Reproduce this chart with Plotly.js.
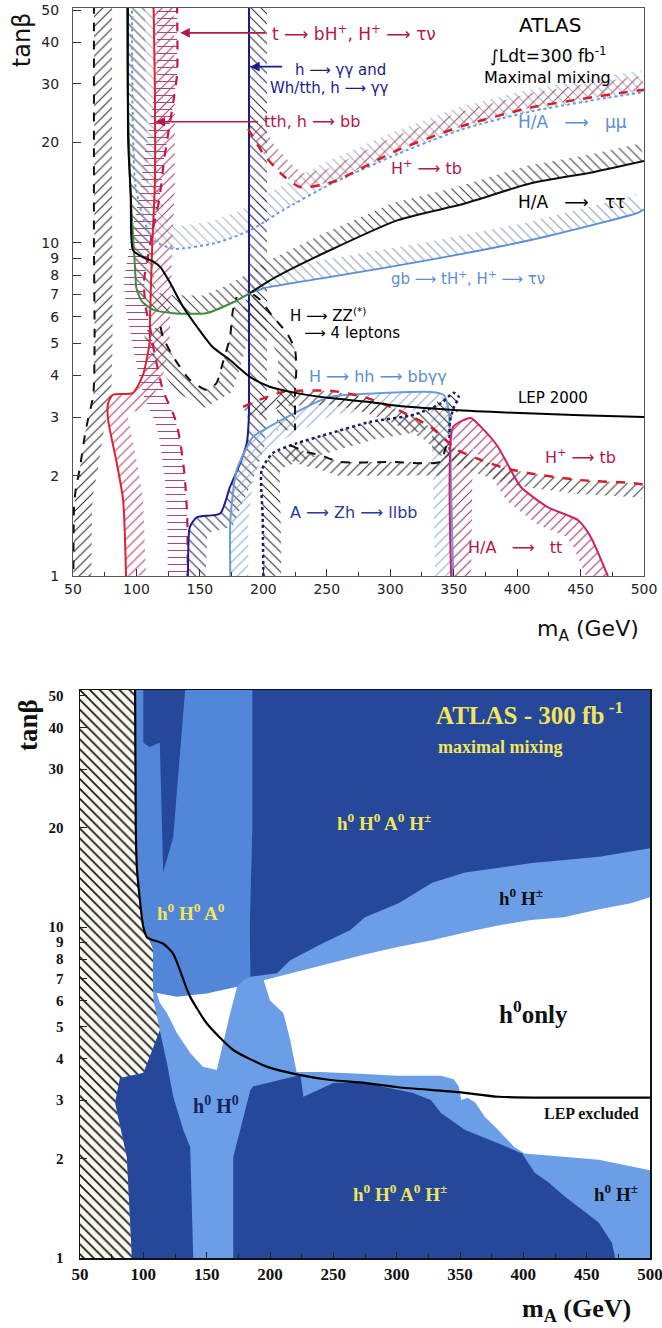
<!DOCTYPE html>
<html>
<head>
<meta charset="utf-8">
<script src="https://cdn.plot.ly/plotly-3.0.1.min.js"></script>
<style>html,body{margin:0;padding:0;background:#fff}</style>
</head>
<body>
<div id="chart" style="width:662px;height:1328px"></div>
<script>
// ===== Upper panel: 5-sigma discovery contours, mA (GeV) vs tan(beta) =====
const lepX = [93.3, 93.5, 95.5, 97.3, 105, 113, 119, 126.4, 136.7, 147.7, 160, 173.7, 189.5, 205, 226.5, 252.5, 284, 300, 350, 397, 450, 500];
const lepY = [52, 20, 14, 9.5, 9.06, 8.8, 8.44, 7.6, 6.43, 5.6, 4.87, 4.45, 3.96, 3.7, 3.54, 3.42, 3.33, 3.26, 3.15, 3.09, 3.04, 3.0];

const edgeDashX = [66.5, 66.5, 66.5, 67, 66, 60, 55.5, 52, 50.8, 50.3];
const edgeDashY = [52, 20, 10, 5, 3.5, 2.74, 2.12, 1.8, 1.6, 1.0];

const tthX = [113.5, 114.5, 114.5, 112.5, 110.7, 110.3, 105, 97, 81.5, 77.6, 77.7, 84.5, 89.5, 91.8];
const tthY = [52, 30, 15, 10, 6, 5, 4.0, 3.54, 3.5, 3.3, 2.94, 2.18, 1.69, 1.0];

const tbHX = [132, 132, 128, 122, 118, 113, 110, 106, 107, 111, 114, 121, 130, 134, 138, 140, 140.5];
const tbHY = [52, 32, 25, 18, 13.5, 11, 9.5, 7.7, 6.5, 5.5, 4.7, 3.6, 3.0, 2.6, 2.0, 1.5, 1.0];

const ggX = [188.7, 188.7, 188.7, 188.5, 186.9, 180, 173.7, 166, 147.5, 142, 140.6, 140.3];
const ggY = [52, 10, 4, 2.94, 2.5, 2.1, 1.85, 1.54, 1.5, 1.4, 1.04, 1.0];

const gbX = [189.5, 200, 253, 332, 411, 495, 500];
const gbY = [7.07, 7.3, 7.9, 8.9, 10.2, 12.3, 12.6];

const tautauLowX = [92.5, 93, 95, 97, 98.8, 100, 104, 113, 129, 155, 175, 189.5];
const tautauLowY = [52, 30, 15, 11, 8.5, 7.3, 6.7, 6.3, 6.15, 6.15, 6.6, 7.07];
const tautauHighX = [189.5, 210, 252.5, 306, 358, 411, 460, 500];
const tautauHighY = [7.07, 7.9, 9.5, 11.7, 13.1, 15.1, 16.3, 17.6];

const mumuX = [96.5, 97, 99, 105, 113, 129, 163, 189.5, 215, 253, 306, 358, 411, 490, 500];
const mumuY = [52, 25, 15, 12, 10.2, 9.6, 10, 10.9, 12.5, 15, 18.5, 22, 24.8, 28, 28.3];

const tbUpX = [188, 200, 215, 229, 254, 306, 358, 411, 450, 490, 500];
const tbUpY = [22, 18.5, 16, 14.7, 15.2, 19, 22.5, 25.5, 27, 28.5, 28.8];

const hhX = [174, 174, 179, 192, 200, 218.6, 252.5, 292.7, 332, 342, 346, 348, 349.6];
const hhY = [1.0, 1.47, 2.08, 2.62, 2.74, 3.0, 3.45, 3.54, 3.57, 3.5, 3.15, 1.85, 1.0];

const zhX = [200, 199.5, 198.7, 207.6, 226, 252.5, 284, 319, 340, 350, 354, 350, 347, 347];
const zhY = [1, 1.5, 2.08, 2.34, 2.5, 2.68, 2.9, 3.05, 3.3, 3.55, 3.45, 3.2, 2.9, 2.3];

const zzLowX = [221, 235, 244.6, 260, 300, 339, 344];
const zzLowY = [2.47, 2.35, 2.31, 2.2, 2.2, 2.2, 2.45];

const zzCupX = [119, 121, 129, 142, 155.6, 163, 168, 173.7, 176, 179];
const zzCupY = [5.6, 5.2, 4.55, 3.88, 3.62, 3.79, 4.36, 5.2, 6.27, 6.88];

const zzHookX = [192, 197.4, 207.6, 218.6, 225, 226, 225, 225, 225];
const zzHookY = [7.0, 6.75, 6.0, 5.36, 4.77, 4.15, 3.62, 2.94, 2.74];

const ttX = [348, 349.5, 358, 363.6, 374, 385, 395, 403, 424, 448, 458, 471.5];
const ttY = [1.0, 2.8, 2.94, 2.98, 2.74, 2.44, 2.08, 1.85, 1.61, 1.47, 1.31, 1.0];

const tbLowX = [184, 197, 215.5, 252.5, 279, 306, 332, 353, 371.5, 390, 411, 450, 492, 500];
const tbLowY = [3.22, 3.38, 3.57, 3.6, 3.45, 3.15, 2.8, 2.39, 2.23, 2.11, 2.03, 1.94, 1.9, 1.88];

// ===== Lower panel: which Higgs bosons are observable =====
const hatchRegX = [50, 93.5, 94, 95, 100, 107.7, 107.5, 108, 113, 110.6, 100, 81.6, 77.7, 87, 91, 50];
const hatchRegY = [52, 52, 20, 15, 10, 8.6, 7, 6, 4.9, 4.5, 3.62, 3.5, 2.95, 2.02, 1, 1];

const neutralRegX = [93.5, 186, 186, 184, 184.5, 179, 174, 150, 126.5, 110.6, 107.7, 107.7, 100, 95, 94];
const neutralRegY = [52, 52, 20, 10, 7.07, 6.9, 6.6, 6.3, 6.16, 6.32, 6.5, 8.6, 10, 15, 20];

const onlyRegX = [195, 271.5, 300.7, 327, 353, 380, 406, 432, 459, 485, 500, 500, 459.5, 433, 401, 393, 380, 369.5, 362, 356, 351, 349, 345, 335, 300, 271, 240, 221, 216, 210.5, 200];
const onlyRegY = [6.9, 8.2, 8.7, 9.1, 9.6, 10.1, 10.5, 10.7, 11.3, 11.8, 12.3, 1.84, 1.98, 2.02, 2.07, 2.16, 2.44, 2.67, 2.95, 3.05, 3.0, 3.3, 3.47, 3.55, 3.55, 3.6, 3.65, 3.65, 4.55, 5.5, 6.0];

const bayRegX = [110.6, 126.5, 150.2, 174, 168.6, 163, 158, 147, 137, 126.5, 118.6, 113];
const bayRegY = [6.32, 6.16, 6.3, 6.6, 5.5, 4.46, 3.7, 3.78, 4.16, 4.78, 5.5, 5.9];

const allUpX = [186, 500, 500, 460, 407, 354, 328, 301.5, 275, 263.5, 242, 216, 205.6, 184.5, 184, 186];
const allUpY = [52, 52, 17.3, 16.3, 15.6, 14.6, 13.6, 11.8, 10.7, 9.8, 8.95, 7.94, 7.25, 7.07, 10, 20];

const allSliverX = [100, 100, 105, 113, 115.7, 123.6, 133];
const allSliverY = [52, 36, 35, 36, 14.6, 18.7, 52];

const allLeftX = [81.6, 100, 113, 118.6, 123.6, 131.5, 137, 139.4, 91, 87, 77.7];
const allLeftY = [3.5, 3.62, 4.88, 3.88, 3.07, 2.44, 2.16, 1, 1, 2.02, 2.95];

const allLowX = [171, 171, 184.5, 186.8, 224, 226.4, 250, 271.5, 313, 327, 335, 353.7, 380, 399, 409, 420, 433, 446, 459.5, 470, 472.5];
const allLowY = [1, 2.02, 3.22, 3.3, 3.57, 3.07, 3.38, 3.4, 3.15, 3.0, 2.74, 2.44, 2.22, 2.07, 1.81, 1.69, 1.53, 1.4, 1.28, 1.11, 1];

const lep2X = [93.5, 94, 95, 100, 103, 115.7, 123.6, 134.6, 137, 150, 171, 198, 224, 248, 274.6, 301, 349, 380.6, 420, 500];
const lep2Y = [52, 20, 14.9, 10, 9.3, 8.9, 8.3, 6.45, 6.15, 5.12, 4.25, 3.78, 3.57, 3.45, 3.38, 3.28, 3.17, 3.07, 3.05, 3.05];

// axis ticks
const massTicks = [50, 100, 150, 200, 250, 300, 350, 400, 450, 500];
const tanbTicks = [1, 2, 3, 4, 5, 6, 7, 8, 9, 10, 20, 30, 40, 50];
const tanbText = tanbTicks.map(String);

// ---------------------------------------------------------------
const CRIMSON = '#b5174b', RED = '#dc2430', NAVY = '#1c1c8a', LBLUE = '#5b8fd0';
const PX_GEV = 571 / 450, PX_DEC = 333;   // screen scale of the upper panel

// offset a contour sideways by a fixed screen width -> hatched band polygon
function band(xs, ys, wpx, side) {
  const u = xs.map(x => (x - 50) * PX_GEV), v = ys.map(y => Math.log10(y) * PX_DEC);
  const n = xs.length, ox = [], oy = [];
  for (let i = 0; i < n; i++) {
    const a = Math.max(0, i - 1), b = Math.min(n - 1, i + 1);
    let du = u[b] - u[a], dv = v[b] - v[a];
    const L = Math.hypot(du, dv) || 1; du /= L; dv /= L;
    ox.push(50 + (u[i] - dv * side * wpx) / PX_GEV);
    oy.push(Math.pow(10, (v[i] + du * side * wpx) / PX_DEC));
  }
  return { x: xs.concat(ox.reverse()), y: ys.concat(oy.reverse()) };
}

const traces = [];
function hatch(xs, ys, wpx, side, shape, color) {
  const p = band(xs, ys, wpx, side);
  traces.push({
    type: 'scatter', x: p.x, y: p.y, xaxis: 'x', yaxis: 'y', mode: 'lines',
    line: { width: 0, color: 'rgba(0,0,0,0)' }, fill: 'toself', fillcolor: 'rgba(0,0,0,0)',
    fillpattern: { shape: shape, fgcolor: color, bgcolor: 'rgba(0,0,0,0)', size: 7, solidity: 0.15 },
    hoverinfo: 'skip', showlegend: false
  });
}
function curve(xs, ys, color, width, dash) {
  traces.push({
    type: 'scatter', x: xs, y: ys, xaxis: 'x', yaxis: 'y', mode: 'lines',
    line: { color: color, width: width, dash: dash || 'solid', shape: 'spline', smoothing: 0.6 },
    hoverinfo: 'skip', showlegend: false
  });
}

// hatched sides of the contours
hatch(edgeDashX, edgeDashY, 18, 1, '/', '#2a2a2a');
hatch(tautauLowX.concat(tautauHighX.slice(1)), tautauLowY.concat(tautauHighY.slice(1)), 18, 1, '\\', '#3a3a3a');
hatch(mumuX, mumuY, 22, 1, '\\', '#a4afc4');
hatch(tthX, tthY, 20, 1, '/', '#b33c5c');
hatch(tbHX, tbHY, 20, -1, '-', '#a8467c');
hatch(ggX, ggY, 18, 1, '\\', '#2a2a4a');
hatch(gbX, gbY, 18, 1, '\\', '#8f9cb4');
hatch(tbUpX, tbUpY, 14, 1, '/', '#a84a68');
hatch(hhX, hhY, 18, -1, '/', '#8aa8d0');
hatch(zhX, zhY, 18, -1, '\\', '#2a2a2a');
hatch(zzLowX, zzLowY, 14, -1, '/', '#2a2a2a');
hatch(zzCupX, zzCupY, 18, -1, '\\', '#2a2a2a');
hatch(zzHookX, zzHookY, 18, -1, '\\', '#2a2a2a');
hatch(ttX, ttY, 20, -1, '/', '#9c3060');
hatch(tbLowX, tbLowY, 14, -1, '/', '#3a3a3a');

// contour lines
curve(edgeDashX, edgeDashY, '#111', 2, 'dash');
curve(mumuX, mumuY, '#6d9bd6', 2, 'dot');
curve(tthX, tthY, RED, 2);
curve(tbHX, tbHY, '#c2185b', 2.2, 'dash');
curve(ggX, ggY, NAVY, 2);
curve(gbX, gbY, LBLUE, 1.8);
curve(tautauLowX, tautauLowY, '#3d8b3d', 2);
curve(tautauHighX, tautauHighY, '#111', 2);
curve(tbUpX, tbUpY, '#d0202e', 2.5, 'dash');
curve(hhX, hhY, '#6d9bd6', 2);
curve(zhX, zhY, '#1c1c5a', 2.5, 'dot');
curve(zzLowX, zzLowY, '#111', 2, 'dash');
curve(zzCupX, zzCupY, '#111', 2, 'dash');
curve(zzHookX, zzHookY, '#111', 2, 'dash');
curve(ttX, ttY, '#cf2070', 2);
curve(tbLowX, tbLowY, '#d0202e', 2.5, 'dash');
curve(lepX, lepY, '#000', 2);

// lower panel regions
function region(xs, ys, color, pattern) {
  const t = {
    type: 'scatter', x: xs, y: ys, xaxis: 'x2', yaxis: 'y2', mode: 'lines',
    line: { width: 0, color: 'rgba(0,0,0,0)' }, fill: 'toself', fillcolor: color,
    hoverinfo: 'skip', showlegend: false
  };
  if (pattern) t.fillpattern = pattern;
  traces.push(t);
}
const DARK = '#26489b', MID = '#5286d9', LIGHT = '#6b9ee6';
region(hatchRegX, hatchRegY, '#fbf9ef', { shape: '\\', fgcolor: '#1a1a1a', bgcolor: '#fbf9ef', size: 7, solidity: 0.25 });
region(neutralRegX, neutralRegY, MID);
region(onlyRegX, onlyRegY, '#ffffff');
region(bayRegX, bayRegY, '#ffffff');
region(allUpX, allUpY, DARK);
region(allSliverX, allSliverY, DARK);
region(allLeftX, allLeftY, DARK);
region(allLowX, allLowY, DARK);
traces.push({
  type: 'scatter', x: lep2X, y: lep2Y, xaxis: 'x2', yaxis: 'y2', mode: 'lines',
  line: { color: '#000', width: 2.2, shape: 'spline', smoothing: 0.6 }, hoverinfo: 'skip', showlegend: false
});

// ---------------------------------------------------------------
const L10 = Math.log10;
const SANS = 'DejaVu Sans, Liberation Sans, sans-serif';
const SERIF = 'Liberation Serif, Times New Roman, serif';
const AR = ' \u27F6 ';
const ann = [];
function txt(t, x, y, color, size, anchor, ref) {
  ann.push({
    text: t, x: x, y: L10(y), xref: ref ? 'x2' : 'x', yref: ref ? 'y2' : 'y',
    xanchor: anchor || 'left', yanchor: 'middle', showarrow: false,
    font: ref ? { family: SERIF, size: size, color: color, weight: 700 } : { family: SANS, size: size, color: color }
  });
}
function arrow(x0, x1, y, color) {
  ann.push({
    text: '', x: x1, y: L10(y), ax: x0, ay: L10(y), xref: 'x', yref: 'y', axref: 'x', ayref: 'y',
    showarrow: true, arrowhead: 2, arrowsize: 1.2, arrowwidth: 1.6, arrowcolor: color
  });
}

// upper panel labels
txt('t' + AR + 'bH<sup>+</sup>, H<sup>+</sup>' + AR + 'τν', 205, 42.7, CRIMSON, 17);
arrow(203, 134.5, 42.7, CRIMSON);
txt('h' + AR + 'γγ and', 223.4, 33.1, NAVY, 15);
arrow(216, 189.5, 33.8, NAVY);
txt('Wh/tth, h' + AR + 'γγ', 203.7, 29.2, NAVY, 15);
txt('tth, h' + AR + 'bb', 199, 23.1, CRIMSON, 16);
arrow(197, 115, 23.1, CRIMSON);
txt('ATLAS', 426, 45.2, '#000', 20, 'center');
txt('∫Ldt=300 fb<sup>-1</sup>', 425, 36.7, '#000', 17, 'center');
txt('Maximal mixing', 424, 31.3, '#000', 16, 'center');
txt('H/A  ' + AR + '  μμ', 399, 23.1, LBLUE, 17);
txt('H<sup>+</sup>' + AR + 'tb', 299, 16.8, CRIMSON, 16);
txt('H/A  ' + AR + '  ττ', 399, 13.3, '#000', 17);
txt('gb' + AR + 'tH<sup>+</sup>, H<sup>+</sup>' + AR + 'τν', 299, 7.85, LBLUE, 15);
txt('H' + AR + 'ZZ<sup>(*)</sup>', 219.4, 6.08, '#000', 15);
txt('  ' + AR + '4 leptons', 219.4, 5.37, '#000', 15);
txt('H' + AR + 'hh' + AR + 'bbγγ', 234.4, 3.96, LBLUE, 16);
txt('LEP 2000', 399, 3.42, '#000', 15);
txt('H<sup>+</sup>' + AR + 'tb', 420.4, 2.28, CRIMSON, 16);
txt('A' + AR + 'Zh' + AR + 'llbb', 219.4, 1.546, '#2a3a9a', 16);
txt('H/A  ' + AR + '  tt', 359.7, 1.22, CRIMSON, 16);

// lower panel labels
const YEL = '#f3e55a';
txt('ATLAS - 300 fb<sup> -1</sup>', 405, 44.3, YEL, 25, 'center', 2);
txt('maximal mixing', 382, 35.0, YEL, 18, 'center', 2);
txt('h<sup>0</sup> H<sup>0</sup> A<sup>0</sup> H<sup>±</sup>', 290, 20.8, YEL, 19, 'center', 2);
txt('h<sup>0</sup> H<sup>±</sup>', 398, 12.3, '#111', 19, 'center', 2);
txt('h<sup>0</sup> H<sup>0</sup> A<sup>0</sup>', 138, 11.1, YEL, 19, 'center', 2);
txt('h<sup>0</sup>only', 408, 5.54, '#111', 25, 'center', 2);
txt('h<sup>0</sup> H<sup>0</sup>', 157.6, 2.9, '#14245a', 20, 'center', 2);
txt('LEP excluded', 454, 2.74, '#111', 16, 'center', 2);
txt('h<sup>0</sup> H<sup>0</sup> A<sup>0</sup> H<sup>±</sup>', 303, 1.572, YEL, 19, 'center', 2);
txt('h<sup>0</sup> H<sup>±</sup>', 473, 1.572, '#111', 19, 'center', 2);

// axis titles
ann.push({ text: 'tanβ', xref: 'paper', yref: 'paper', x: -0.088, y: 0.9744, textangle: -90, showarrow: false,
  xanchor: 'center', yanchor: 'middle', font: { family: SANS, size: 24, color: '#111' } });
ann.push({ text: 'm<sub>A</sub> (GeV)', xref: 'paper', yref: 'paper', x: 0.8925, y: 0.5024, showarrow: false,
  xanchor: 'center', yanchor: 'middle', font: { family: SANS, size: 22, color: '#111' } });
ann.push({ text: 'tanβ', xref: 'paper', yref: 'paper', x: -0.078, y: 0.4264, textangle: -90, showarrow: false,
  xanchor: 'center', yanchor: 'middle', font: { family: SERIF, size: 27, color: '#111', weight: 700 } });
ann.push({ text: 'm<sub>A</sub> (GeV)', xref: 'paper', yref: 'paper', x: 0.872, y: -0.0416, showarrow: false,
  xanchor: 'center', yanchor: 'middle', font: { family: SERIF, size: 26, color: '#111', weight: 700 } });

const topAxisFont = { family: SANS, size: 14, color: '#222' };
const botXFont = { family: SERIF, size: 17, color: '#111', weight: 700 };
const botYFont = { family: SERIF, size: 15, color: '#111', weight: 700 };

const layout = {
  width: 662, height: 1328,
  margin: { l: 73, r: 12, t: 8, b: 70 },
  paper_bgcolor: '#fff', plot_bgcolor: 'rgba(0,0,0,0)',
  showlegend: false,
  xaxis: {
    domain: [0, 571 / 577], anchor: 'y', range: [50, 500], tickvals: massTicks,
    ticks: 'inside', ticklen: 7, tickcolor: '#333', showline: true, mirror: true, linecolor: '#555', linewidth: 1,
    showgrid: false, zeroline: false, tickfont: topAxisFont, ticklabeloverflow: 'allow',
    minor: { dtick: 25, ticks: 'inside', ticklen: 4, tickcolor: '#333', showgrid: false }
  },
  yaxis: {
    domain: [0.5456, 1], anchor: 'x', type: 'log', range: [0, 1.705], tickvals: tanbTicks, ticktext: tanbText,
    ticks: 'inside', ticklen: 8, tickcolor: '#333', showline: true, mirror: true, linecolor: '#555', linewidth: 1,
    showgrid: false, zeroline: false, tickfont: topAxisFont, ticklabelstandoff: 10
  },
  xaxis2: {
    domain: [7 / 577, 1], anchor: 'y2', range: [50, 500], tickvals: massTicks,
    ticks: 'inside', ticklen: 6, tickcolor: '#222', showline: true, mirror: true, linecolor: '#111', linewidth: 1.5,
    showgrid: false, zeroline: false, tickfont: botXFont, ticklabeloverflow: 'allow',
    minor: { dtick: 25, ticks: 'inside', ticklen: 4, tickcolor: '#222', showgrid: false }
  },
  yaxis2: {
    domain: [0, 0.4544], anchor: 'x2', type: 'log', range: [0, 1.716], tickvals: tanbTicks, ticktext: tanbText,
    ticks: 'inside', ticklen: 7, tickcolor: '#222', showline: true, mirror: true, linecolor: '#111', linewidth: 1.5,
    showgrid: false, zeroline: false, tickfont: botYFont, ticklabelstandoff: 12
  },
  shapes: [{
    type: 'rect', xref: 'x2 domain', yref: 'y2 domain', x0: 0, x1: 1, y0: 0, y1: 1,
    fillcolor: LIGHT, line: { width: 0 }, layer: 'below'
  }],
  annotations: ann
};

Plotly.newPlot('chart', traces, layout, { staticPlot: true, displayModeBar: false });
</script>
</body>
</html>
